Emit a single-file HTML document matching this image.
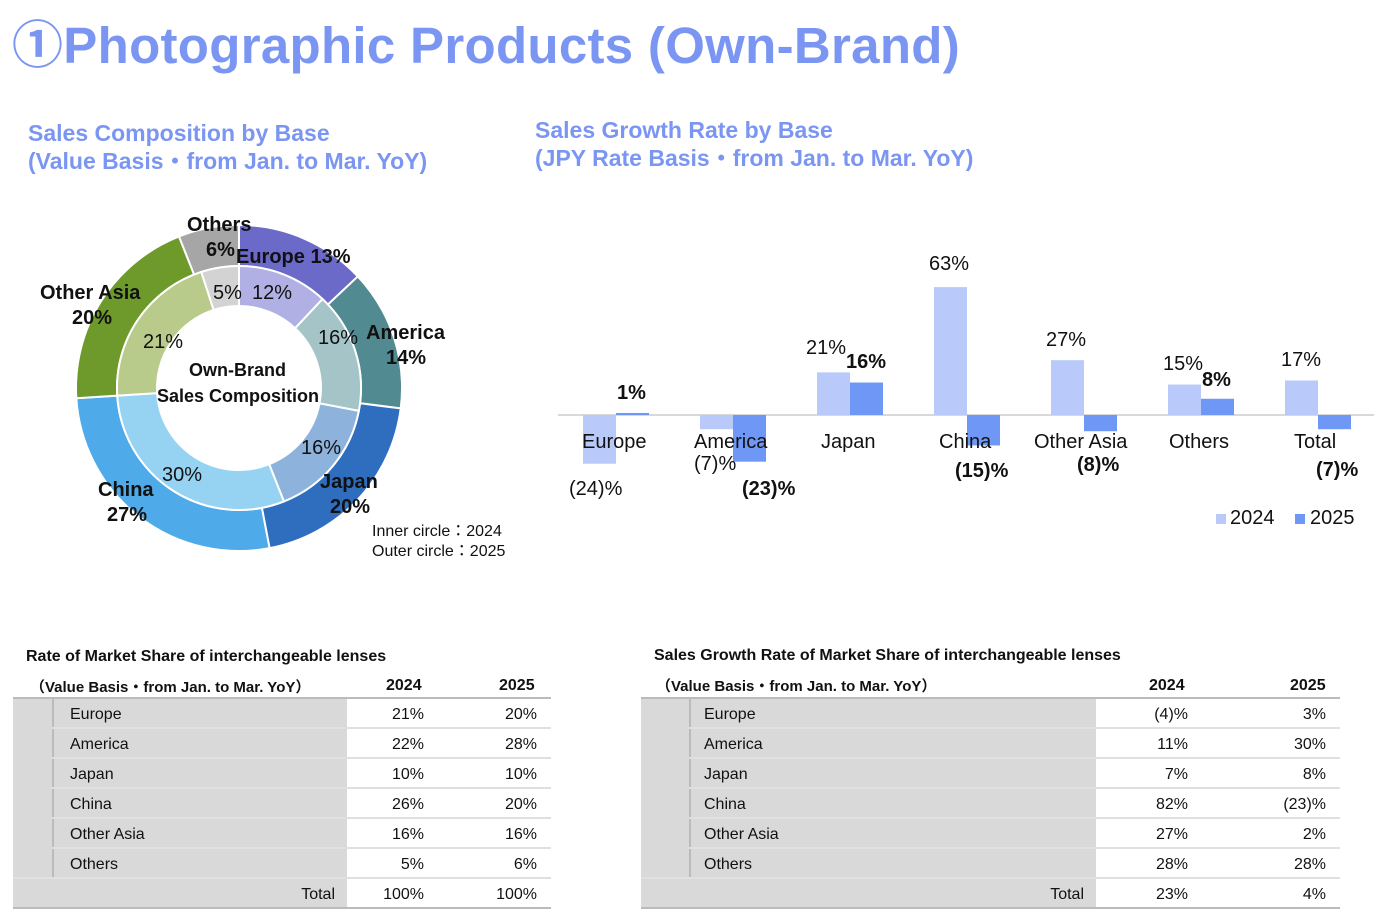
<!DOCTYPE html><html><head><meta charset="utf-8"><style>
body{margin:0;width:1374px;height:920px;background:#fff;font-family:"Liberation Sans","Noto Sans CJK JP",sans-serif;position:relative;overflow:hidden}
.a{position:absolute;white-space:nowrap}
.t{color:#7b96f2;font-weight:bold}
table{position:absolute;border-collapse:collapse;font-size:16px;color:#111;table-layout:fixed}
td{height:24px;padding:4px 0 0 0;border-bottom:2px solid #e0e0e0}
td.g{background:#d9d9d9}
td.n{text-align:right;padding-right:14px}
</style></head><body>
<div class="a t" style="left:12px;top:4px;font-size:51px;letter-spacing:0.3px">①Photographic Products (Own-Brand)</div>
<div class="a t" style="left:28px;top:119px;font-size:23px;line-height:28px">Sales Composition by Base<br>(Value Basis・from Jan. to Mar. YoY)</div>
<div class="a t" style="left:535px;top:116px;font-size:23px;line-height:28px">Sales Growth Rate by Base<br>(JPY Rate Basis・from Jan. to Mar. YoY)</div>
<svg class="a" style="left:0;top:0" width="1374" height="620" id="s"></svg>
<script>
var s=document.getElementById('s'),h='';
function arc(cx,cy,r1,r0,a0,a1,c){var f=function(r,a){a=a*2*Math.PI;return [cx+r*Math.sin(a),cy-r*Math.cos(a)]};
var p=f(r1,a0),q=f(r1,a1),m=f(r0,a1),n=f(r0,a0),l=(a1-a0)>.5?1:0;
return '<path d="M'+p+'A'+r1+','+r1+' 0 '+l+' 1 '+q+'L'+m+'A'+r0+','+r0+' 0 '+l+' 0 '+n+'Z" fill="'+c+'" stroke="#fff" stroke-width="2"/>'}
var o=[13,14,20,27,20,6],oc=['#6b6ac9','#518a90','#2f6ebe','#4eaae8','#6e9a2c','#a6a6a6'];
var i=[12,16,16,30,21,5],ic=['#b1b0e4','#a5c4c7','#8db2dc','#96d3f2','#b8cb8b','#d3d3d3'];
var a=0;o.forEach(function(v,k){h+=arc(239,388,163,122,a/100,(a+v)/100,oc[k]);a+=v});
a=0;i.forEach(function(v,k){h+=arc(239,388,122,82,a/100,(a+v)/100,ic[k]);a+=v});
h+='<line x1="558" y1="415" x2="1374" y2="415" stroke="#d9d9d9" stroke-width="2"/>';
var d=[[-24,1],[-7,-23],[21,16],[63,-15],[27,-8],[15,8],[17,-7]];
d.forEach(function(v,k){var cx=616+117*k;[0,1].forEach(function(j){var y=v[j]*2.03,x=cx-33+33*j;
h+='<rect x="'+x+'" y="'+(y>0?415-y:415)+'" width="33" height="'+Math.max(Math.abs(y),2)+'" fill="'+(j?'#6f97f5':'#b9c9f9')+'"/>'})});
h+='<rect x="1216" y="514" width="10" height="10" fill="#b9c9f9"/><rect x="1295" y="514" width="10" height="10" fill="#6f97f5"/>';
s.innerHTML=h;
</script>
<div style="font-size:20px;font-weight:bold;color:#111">
<div class="a" style="left:187px;top:214px">Others</div><div class="a" style="left:206px;top:239px">6%</div>
<div class="a" style="left:236px;top:246px">Europe 13%</div>
<div class="a" style="left:40px;top:282px">Other Asia</div><div class="a" style="left:72px;top:307px">20%</div>
<div class="a" style="left:366px;top:322px">America</div><div class="a" style="left:386px;top:347px">14%</div>
<div class="a" style="left:320px;top:471px">Japan</div><div class="a" style="left:330px;top:496px">20%</div>
<div class="a" style="left:98px;top:479px">China</div><div class="a" style="left:107px;top:504px">27%</div>
<div class="a" style="left:189px;top:360px;font-size:18px">Own-Brand</div>
<div class="a" style="left:157px;top:386px;font-size:18px">Sales Composition</div>
</div>
<div style="font-size:20px;color:#111">
<div class="a" style="left:213px;top:282px">5%</div><div class="a" style="left:252px;top:282px">12%</div>
<div class="a" style="left:318px;top:327px">16%</div><div class="a" style="left:143px;top:331px">21%</div>
<div class="a" style="left:301px;top:437px">16%</div><div class="a" style="left:162px;top:464px">30%</div>
</div>
<div class="a" style="left:372px;top:522px;font-size:16px;line-height:20px;color:#111">Inner circle：2024<br>Outer circle：2025</div>
<div style="font-size:20px;color:#111">
<div class="a" style="left:929px;top:253px">63%</div>
<div class="a" style="left:1046px;top:329px">27%</div>
<div class="a" style="left:806px;top:337px">21%</div>
<div class="a" style="left:1163px;top:353px">15%</div>
<div class="a" style="left:1281px;top:349px">17%</div>
<div class="a" style="left:569px;top:478px">(24)%</div>
<div class="a" style="left:694px;top:453px">(7)%</div>
<div class="a" style="left:582px;top:431px">Europe</div>
<div class="a" style="left:694px;top:431px">America</div>
<div class="a" style="left:821px;top:431px">Japan</div>
<div class="a" style="left:939px;top:431px">China</div>
<div class="a" style="left:1034px;top:431px">Other Asia</div>
<div class="a" style="left:1169px;top:431px">Others</div>
<div class="a" style="left:1294px;top:431px">Total</div>
<div class="a" style="left:1230px;top:507px">2024</div><div class="a" style="left:1310px;top:507px">2025</div>
</div>
<div style="font-size:20px;font-weight:bold;color:#111">
<div class="a" style="left:617px;top:382px">1%</div>
<div class="a" style="left:846px;top:351px">16%</div>
<div class="a" style="left:1202px;top:369px">8%</div>
<div class="a" style="left:742px;top:478px">(23)%</div>
<div class="a" style="left:955px;top:460px">(15)%</div>
<div class="a" style="left:1077px;top:454px">(8)%</div>
<div class="a" style="left:1316px;top:459px">(7)%</div>
</div>
<div class="a" style="left:26px;top:648px;font-size:16px;font-weight:bold;color:#111">Rate of Market Share of interchangeable lenses</div>
<div class="a" style="left:30px;top:676px;font-size:15px;font-weight:bold;color:#111">（Value Basis・from Jan. to Mar. YoY）</div>
<div class="a" style="left:386px;top:677px;font-size:16px;font-weight:bold;color:#111">2024</div>
<div class="a" style="left:499px;top:677px;font-size:16px;font-weight:bold;color:#111">2025</div>
<table style="left:13px;top:697px;width:538px;border-top:2px solid #bbb">
<colgroup><col style="width:40px"><col style="width:294px"><col style="width:91px"><col></colgroup>
<tr><td class="g" style="border-bottom:none"></td><td class="g" style="padding-left:16px;border-left:2px solid #bbb">Europe</td><td class="n">21%</td><td class="n">20%</td></tr>
<tr><td class="g" style="border-bottom:none"></td><td class="g" style="padding-left:16px;border-left:2px solid #bbb">America</td><td class="n">22%</td><td class="n">28%</td></tr>
<tr><td class="g" style="border-bottom:none"></td><td class="g" style="padding-left:16px;border-left:2px solid #bbb">Japan</td><td class="n">10%</td><td class="n">10%</td></tr>
<tr><td class="g" style="border-bottom:none"></td><td class="g" style="padding-left:16px;border-left:2px solid #bbb">China</td><td class="n">26%</td><td class="n">20%</td></tr>
<tr><td class="g" style="border-bottom:none"></td><td class="g" style="padding-left:16px;border-left:2px solid #bbb">Other Asia</td><td class="n">16%</td><td class="n">16%</td></tr>
<tr><td class="g"></td><td class="g" style="padding-left:16px;border-left:2px solid #bbb">Others</td><td class="n">5%</td><td class="n">6%</td></tr>
<tr><td class="g" colspan="2" style="text-align:right;padding-right:12px;border-bottom:2px solid #bbb">Total</td><td class="n" style="border-bottom:2px solid #bbb">100%</td><td class="n" style="border-bottom:2px solid #bbb">100%</td></tr>
</table>
<div class="a" style="left:654px;top:647px;font-size:16px;font-weight:bold;color:#111">Sales Growth Rate of Market Share of interchangeable lenses</div>
<div class="a" style="left:656px;top:675px;font-size:15px;font-weight:bold;color:#111">（Value Basis・from Jan. to Mar. YoY）</div>
<div class="a" style="left:1149px;top:677px;font-size:16px;font-weight:bold;color:#111">2024</div>
<div class="a" style="left:1290px;top:677px;font-size:16px;font-weight:bold;color:#111">2025</div>
<table style="left:641px;top:697px;width:699px;border-top:2px solid #bbb">
<colgroup><col style="width:49px"><col style="width:406px"><col style="width:116px"><col></colgroup>
<tr><td class="g" style="border-bottom:none"></td><td class="g" style="padding-left:13px;border-left:2px solid #bbb">Europe</td><td class="n" style="padding-right:24px">(4)%</td><td class="n">3%</td></tr>
<tr><td class="g" style="border-bottom:none"></td><td class="g" style="padding-left:13px;border-left:2px solid #bbb">America</td><td class="n" style="padding-right:24px">11%</td><td class="n">30%</td></tr>
<tr><td class="g" style="border-bottom:none"></td><td class="g" style="padding-left:13px;border-left:2px solid #bbb">Japan</td><td class="n" style="padding-right:24px">7%</td><td class="n">8%</td></tr>
<tr><td class="g" style="border-bottom:none"></td><td class="g" style="padding-left:13px;border-left:2px solid #bbb">China</td><td class="n" style="padding-right:24px">82%</td><td class="n">(23)%</td></tr>
<tr><td class="g" style="border-bottom:none"></td><td class="g" style="padding-left:13px;border-left:2px solid #bbb">Other Asia</td><td class="n" style="padding-right:24px">27%</td><td class="n">2%</td></tr>
<tr><td class="g"></td><td class="g" style="padding-left:13px;border-left:2px solid #bbb">Others</td><td class="n" style="padding-right:24px">28%</td><td class="n">28%</td></tr>
<tr><td class="g" colspan="2" style="text-align:right;padding-right:12px;border-bottom:2px solid #bbb">Total</td><td class="n" style="padding-right:24px;border-bottom:2px solid #bbb">23%</td><td class="n" style="border-bottom:2px solid #bbb">4%</td></tr>
</table>
</body></html>
